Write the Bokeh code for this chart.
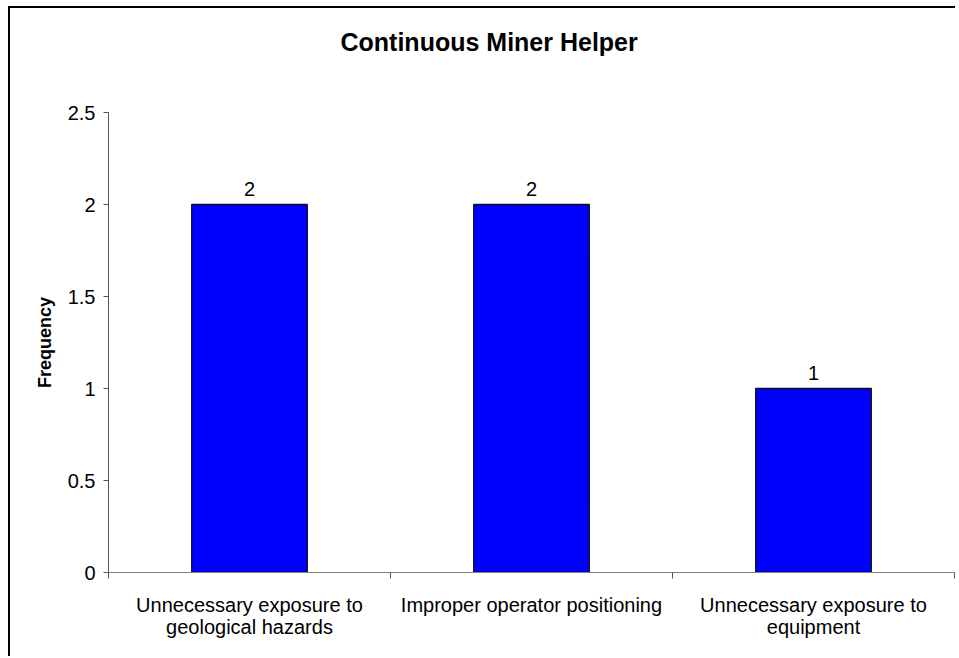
from bokeh.plotting import figure
from bokeh.models import (ColumnDataSource, Range1d, LinearAxis,
                          FixedTicker, LabelSet)
from bokeh.core.properties import value
from bokeh.embed import file_html
from bokeh.resources import INLINE

title_text = "Continuous Miner Helper"
categories = ["Unnecessary exposure to\ngeological hazards",
              "Improper operator positioning",
              "Unnecessary exposure to\nequipment"]
values = [2, 2, 1]
value_labels = [str(v) for v in values]
y_ticks = [0, 0.5, 1, 1.5, 2, 2.5]
y_tick_labels = ["0", "0.5", "1", "1.5", "2", "2.5"]
y_label = "Frequency"

FONT = "Liberation Sans"

n = len(categories)
centers = [i + 0.5 for i in range(n)]
edges = list(range(n + 1))

p = figure(width=947, height=650, output_backend="svg", toolbar_location=None,
           x_range=Range1d(0, n), y_range=Range1d(0, y_ticks[-1]),
           x_axis_location=None, y_axis_location=None,
           min_border_left=98, min_border_right=3, min_border_top=104,
           min_border_bottom=86, background_fill_color="white",
           border_fill_color="white", outline_line_color=None,
           styles={"margin-left": "8px", "margin-top": "6px",
                   "border-left": "2px solid #000", "border-top": "2px solid #000"})

for g in p.grid:
    g.visible = False

p.title.text = title_text
p.title.align = "left"
p.title.vertical_align = "bottom"
p.title.offset = 232
p.title.standoff = 0
p.title.padding = {"left": 0, "right": 0, "top": 0, "bottom": 57}
p.title.text_font = FONT
p.title.text_font_size = "25px"
p.title.text_font_style = "bold"
p.title.text_color = "black"

yaxis = LinearAxis(ticker=FixedTicker(ticks=y_ticks),
                   major_label_overrides={t: l for t, l in zip(y_ticks, y_tick_labels)})
yaxis.axis_label = y_label
yaxis.axis_label_text_font = FONT
yaxis.axis_label_text_font_size = "18px"
yaxis.axis_label_text_font_style = "bold"
yaxis.axis_label_text_color = "black"
yaxis.axis_label_standoff = 10
yaxis.major_label_text_font = FONT
yaxis.major_label_text_font_size = "20px"
yaxis.major_label_text_color = "black"
yaxis.major_label_standoff = 8
yaxis.major_tick_in = 0
yaxis.major_tick_out = 5
yaxis.minor_tick_line_color = None
yaxis.axis_line_color = "#555555"
yaxis.major_tick_line_color = "#555555"
p.add_layout(yaxis, "left")

xaxis = LinearAxis(ticker=FixedTicker(ticks=centers, minor_ticks=edges),
                   major_label_overrides={c: lab for c, lab in zip(centers, categories)})
xaxis.axis_line_color = "#808080"
xaxis.major_tick_line_color = None
xaxis.major_tick_in = 0
xaxis.major_tick_out = 0
xaxis.minor_tick_line_color = "#555555"
xaxis.minor_tick_in = 0
xaxis.minor_tick_out = 6
xaxis.major_label_text_font = FONT
xaxis.major_label_text_font_size = "20px"
xaxis.major_label_text_color = "black"
xaxis.major_label_text_line_height = 1.0
xaxis.major_label_standoff = 15
p.add_layout(xaxis, "below")

src = ColumnDataSource(dict(x=centers, val=values, lab=value_labels))
p.vbar(x="x", top="val", width=0.41, source=src, fill_color="#0000FF",
       line_color="#111111", line_width=1.3)
p.add_layout(LabelSet(x="x", y="val", text="lab", source=src, y_offset=9,
                      text_align="center", text_baseline="alphabetic",
                      text_font=value(FONT), text_font_size=value("20px"),
                      text_color="black"))

open("out.html", "w").write(file_html(p, INLINE))
